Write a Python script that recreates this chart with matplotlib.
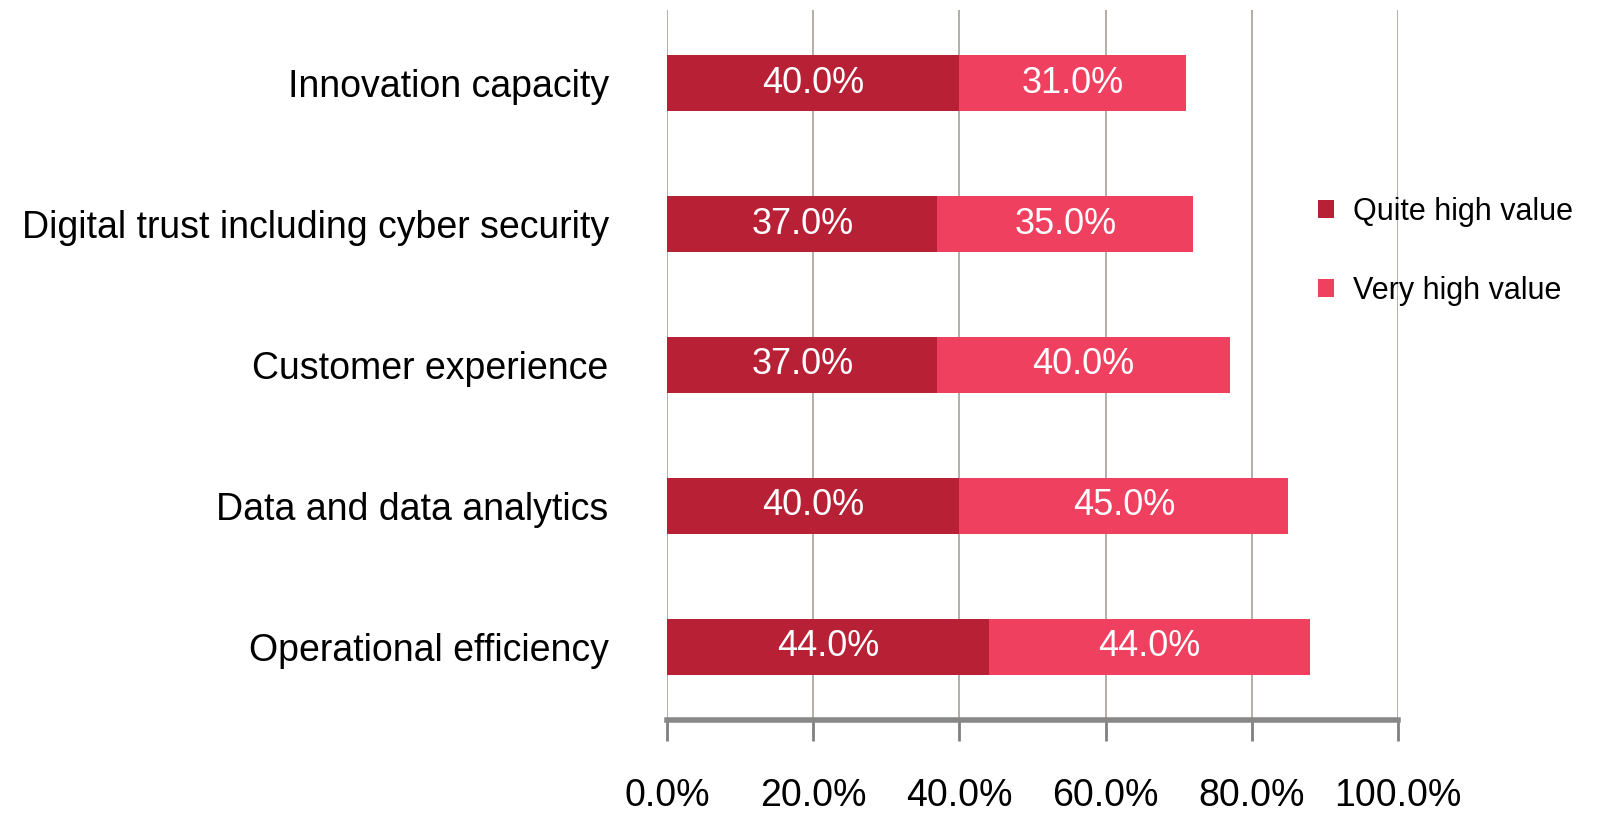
import matplotlib
matplotlib.use("Agg")
import matplotlib.pyplot as plt

plt.rcParams["font.family"] = ["Liberation Sans", "DejaVu Sans"]

# data (bottom to top)
categories = ["Operational efficiency", "Data and data analytics",
              "Customer experience", "Digital trust including cyber security",
              "Innovation capacity"]
quite_high = [44.0, 40.0, 37.0, 37.0, 40.0]
very_high = [44.0, 45.0, 40.0, 35.0, 31.0]
series_names = ["Quite high value", "Very high value"]
x_ticks = [0, 20, 40, 60, 80, 100]

DARK = "#B82035"
PINK = "#F04060"
GRID = "#A8A19B"

fig = plt.figure(figsize=(16.06, 8.16), dpi=100)
ax = fig.add_axes([667 / 1606, 1 - 720 / 816, (1398 - 667) / 1606, (720 - 10) / 816])

y = list(range(len(categories)))
b1 = ax.barh(y, quite_high, height=0.4, color=DARK, label=series_names[0], zorder=3)
b2 = ax.barh(y, very_high, left=quite_high, height=0.4, color=PINK,
             label=series_names[1], zorder=3)

for vals, lefts in [(quite_high, [0] * len(y)), (very_high, quite_high)]:
    for yi, v, l in zip(y, vals, lefts):
        ax.text(l + v / 2, yi, f"{v:.1f}%", ha="center", va="center",
                color="white", fontsize=26, zorder=4)

ax.set_xlim(0, 100)
ax.set_ylim(-0.52, 4.52)
ax.set_xticks(x_ticks)
ax.set_xticklabels([f"{t:.1f}%" for t in x_ticks], fontsize=27)
ax.set_yticks(y)
ax.set_yticklabels(categories, fontsize=27)
ax.tick_params(axis="y", length=0, pad=42)
ax.tick_params(axis="x", length=15, width=2, color="#808080", pad=27)

for s in ["top", "right", "left"]:
    ax.spines[s].set_visible(False)
ax.spines["bottom"].set_color("#888888")
ax.spines["bottom"].set_linewidth(4)

ax.xaxis.grid(True, color=GRID, linewidth=1.2, zorder=0)
ax.set_axisbelow(True)

ax.legend(loc="upper left", bbox_to_anchor=(0.89, 0.737), frameon=False,
          fontsize=22, handlelength=0.55, handleheight=0.55, borderpad=0,
          handletextpad=0.6, labelspacing=1.6, borderaxespad=0)

fig.savefig("out.png", dpi=100)
